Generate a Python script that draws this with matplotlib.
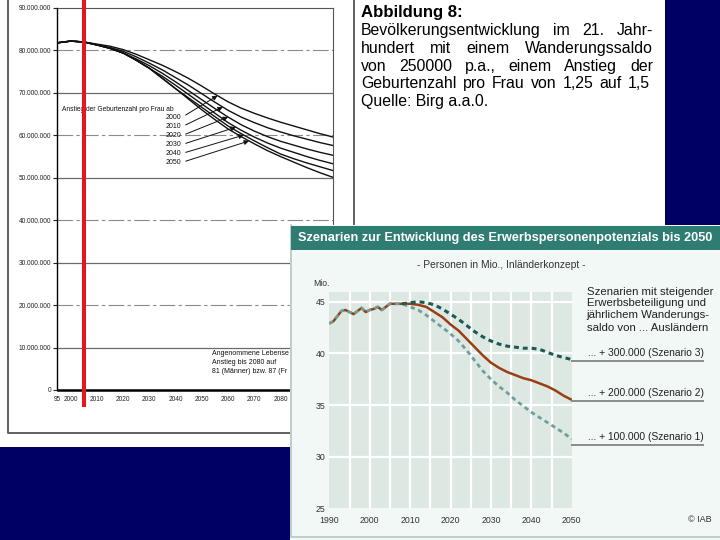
import numpy as np
import matplotlib
matplotlib.use('Agg')
import matplotlib.pyplot as plt
from matplotlib.patches import Rectangle
from matplotlib.lines import Line2D
from matplotlib.transforms import Bbox, TransformedBbox

W, H = 720, 540
FONT = 'Liberation Sans'
plt.rcParams['font.family'] = [FONT, 'DejaVu Sans']

# ---------------- left chart data (Birg, population in millions) ----------------
years_birg = [1995, 2000, 2005, 2010, 2015, 2020, 2025, 2030, 2035, 2040, 2045,
              2050, 2055, 2060, 2065, 2070, 2075, 2080, 2085, 2090, 2095, 2100]
pop_2000 = [81.8, 82.2, 82.0, 81.5, 81.0, 80.2, 79.1, 77.8, 76.5, 75.0, 73.4,
            71.6, 69.7, 67.9, 66.4, 65.2, 64.1, 63.1, 62.2, 61.3, 60.4, 59.6]
pop_2010 = [81.8, 82.2, 82.0, 81.3, 80.7, 79.8, 78.5, 77.0, 75.4, 73.6, 71.8,
            69.8, 67.8, 65.9, 64.3, 63.0, 61.8, 60.8, 59.9, 59.1, 58.3, 57.6]
pop_2020 = [81.8, 82.2, 82.0, 81.3, 80.5, 79.4, 78.0, 76.4, 74.6, 72.6, 70.5,
            68.4, 66.3, 64.3, 62.5, 61.0, 59.7, 58.6, 57.7, 56.8, 56.0, 55.3]
pop_2030 = [81.8, 82.2, 82.0, 81.3, 80.5, 79.4, 77.7, 75.8, 73.9, 71.8, 69.6,
            67.4, 65.2, 63.0, 61.2, 59.6, 58.2, 57.0, 56.0, 55.0, 54.1, 53.3]
pop_2040 = [81.8, 82.2, 82.0, 81.3, 80.5, 79.4, 77.7, 75.8, 73.4, 71.0, 68.8,
            66.6, 64.4, 62.2, 60.4, 58.7, 57.1, 55.6, 54.5, 53.5, 52.6, 51.7]
pop_2050 = [81.8, 82.2, 82.0, 81.3, 80.5, 79.4, 77.7, 75.8, 73.4, 71.0, 68.5,
            66.0, 63.7, 61.5, 59.7, 58.0, 56.4, 55.0, 53.7, 52.4, 51.2, 50.1]
fert_labels = ['2000', '2010', '2020', '2030', '2040', '2050']
arrow_years = [2056, 2058, 2060, 2063, 2066, 2068]
current_year = 2005
birg_yticks = [0, 10, 20, 30, 40, 50, 60, 70, 80, 90]
birg_xticks = [1995, 2000, 2010, 2020, 2030, 2040, 2050, 2060, 2070, 2080, 2090, 2100]
birg_xlabels = ['95', '2000', '2010', '2020', '2030', '2040', '2050', '2060',
                '2070', '2080', '2090', '2100']
note_lines = ['Angenommene Lebense', 'Anstieg bis 2080 auf', '81 (Männer) bzw. 87 (Fr']

# ---------------- inset data (IAB, Mio.) ----------------
hist_years = list(range(1990, 2009))
hist_vals = [42.9, 43.1, 43.6, 44.1, 44.2, 44.0, 43.8, 44.1, 44.4, 44.0,
             44.2, 44.3, 44.5, 44.2, 44.5, 44.8, 44.8, 44.8, 44.8]
proj_years = list(range(2008, 2051, 2))
szen3 = [44.8, 44.9, 45.0, 44.9, 44.7, 44.3, 43.8, 43.3, 42.7, 42.1, 41.6,
         41.2, 40.9, 40.7, 40.6, 40.5, 40.5, 40.4, 40.1, 39.8, 39.6, 39.4]
szen2 = [44.8, 44.8, 44.7, 44.5, 44.0, 43.5, 42.8, 42.2, 41.4, 40.6, 39.8,
         39.1, 38.6, 38.2, 37.9, 37.6, 37.4, 37.1, 36.8, 36.4, 35.9, 35.5]
szen1 = [44.8, 44.5, 44.2, 43.7, 43.1, 42.5, 41.9, 41.2, 40.3, 39.3, 38.3,
         37.5, 36.8, 36.2, 35.5, 34.9, 34.3, 33.8, 33.3, 32.8, 32.3, 31.7]
iab_xticks = [1990, 2000, 2010, 2020, 2030, 2040, 2050]
iab_yticks = [25, 30, 35, 40, 45]
szen_labels = ['... + 300.000 (Szenario 3)', '... + 200.000 (Szenario 2)',
               '... + 100.000 (Szenario 1)']

# ---------------- helpers ----------------
fig = plt.figure(figsize=(W / 100, H / 100), dpi=100)
fig.patch.set_facecolor('#000062')
renderer = fig.canvas.get_renderer()


def fx(px):
    return px / W


def fy(py):
    return 1 - py / H


def frect(x0, y0, x1, y1, **kw):
    r = Rectangle((fx(x0), fy(y1)), (x1 - x0) / W, (y1 - y0) / H,
                  transform=fig.transFigure, **kw)
    fig.patches.append(r)
    return r


def fline(xs, ys, **kw):
    l = Line2D([fx(x) for x in xs], [fy(y) for y in ys], transform=fig.transFigure, **kw)
    fig.lines.append(l)
    return l


def twidth(t):
    return t.get_window_extent(renderer=renderer).width


def fit_text(x, y, s, width, **kw):
    t = fig.text(fx(x), fy(y), s, fontsize=10, **kw)
    t.set_fontsize(10 * width / twidth(t))
    return t


def justify(words, x0, x1, ybase, **kw):
    ts = [fig.text(0, fy(ybase), w, va='baseline', **kw) for w in words]
    ws = [twidth(t) for t in ts]
    gap = (x1 - x0 - sum(ws)) / (len(ws) - 1)
    x = x0
    for t, w in zip(ts, ws):
        t.set_x(fx(x))
        x += w + gap


# ---------------- white slide panel ----------------
frect(0, 0, 665, 447, facecolor='white', edgecolor='none', zorder=-5)

# scanned figure frame
fline([8, 8, 354, 354], [-5, 433, 433, -5], color='#555555', lw=1.3, zorder=0.5)

# ---------------- left chart ----------------
ax1 = fig.add_axes([fx(57.5), fy(390), (333 - 57.5) / W, (390 - 8) / H])
ax1.set_facecolor('none')
ax1.set_xlim(1995, 2100)
ax1.set_ylim(0, 90)
for v in birg_yticks[1:-1]:
    if v % 20 == 0:
        ax1.axhline(v, color='#8a8a8a', lw=0.8, ls=(0, (14, 3, 3, 3)), zorder=1)
    else:
        ax1.axhline(v, color='#6a6a6a', lw=0.9, zorder=1)
for series in [pop_2000, pop_2010, pop_2020, pop_2030, pop_2040, pop_2050]:
    ax1.plot(years_birg, series, color='#111111', lw=1.0, zorder=3)
ax1.set_yticks(birg_yticks)
ax1.set_yticklabels([f"{int(v * 1e6):,}".replace(',', '.') if v else '0' for v in birg_yticks])
ax1.set_xticks(birg_xticks)
ax1.set_xticklabels(birg_xlabels)
ax1.tick_params(axis='y', length=3, width=0.8, pad=1.5, labelsize=4.7, colors='#222222')
ax1.tick_params(axis='x', length=0, pad=4.5, labelsize=4.7, colors='#222222')
ax1.spines['left'].set_linewidth(1.0)
ax1.spines['bottom'].set_linewidth(1.8)
ax1.spines['top'].set_color('#555555')
ax1.spines['right'].set_color('#555555')

ax1.text(1996.9, 66.0, 'Anstieg der Geburtenzahl pro Frau ab', fontsize=4.8,
         ha='left', va='center', color='#111111', zorder=4)
label_vals = [64.2, 62.0, 59.9, 57.8, 55.7, 53.6]
series_all = [pop_2000, pop_2010, pop_2020, pop_2030, pop_2040, pop_2050]
for lab, ay, lv, ser in zip(fert_labels, arrow_years, label_vals, series_all):
    ax1.annotate(lab, xy=(ay, np.interp(ay, years_birg, ser)), xytext=(2042.3, lv),
                 fontsize=5, ha='right', va='center', color='#111111', zorder=4,
                 arrowprops=dict(arrowstyle='-|>', lw=0.7, color='#111111',
                                 mutation_scale=7, relpos=(1, 0.5),
                                 shrinkA=1, shrinkB=0))
clipbox = TransformedBbox(Bbox([[0, 0], [fx(290), 1]]), fig.transFigure)
for i, s in enumerate(note_lines):
    t = ax1.text(2054, 8.5 - 2.1 * i, s, fontsize=5, ha='left', va='center', color='#111111')
    t.set_clip_box(clipbox)
    t.set_clip_on(True)

ax1.axvline(current_year, ymin=-(405 - 390) / 382, ymax=1.05, color='#e8161c',
            lw=2.9, clip_on=False, zorder=5)

# ---------------- right-hand text ----------------
fit_text(361, 17, 'Abbildung 8:', 103, fontweight='bold', va='baseline', color='black')
fs = 11.4
justify('Bevölkerungsentwicklung im 21. Jahr-'.split(), 361, 653, 35, fontsize=fs, color='black')
justify('hundert mit einem Wanderungssaldo'.split(), 361, 653, 52.8, fontsize=fs, color='black')
justify('von 250000 p.a., einem Anstieg der'.split(), 361, 653, 70.6, fontsize=fs, color='black')
justify('Geburtenzahl pro Frau von 1,25 auf 1,5'.split(), 361, 650, 88.4, fontsize=fs, color='black')
fig.text(fx(361), fy(106.2), 'Quelle: Birg a.a.0.', fontsize=fs, va='baseline', color='black')

# ---------------- inset panel ----------------
frect(290, 225, 722, 542, facecolor='#f2f8f6', edgecolor='none', zorder=5)
fline([290.5, 290.5, 722], [225, 537, 537], color='#b4c7c3', lw=1.2, zorder=5.1)
frect(291, 226, 722, 249.5, facecolor='#2f7d72', edgecolor='none', zorder=5.2)
fit_text(297.7, 237.5, 'Szenarien zur Entwicklung des Erwerbspersonenpotenzials bis 2050',
         417, fontweight='bold', color='white', va='center', zorder=7)
fit_text(417.3, 265, '- Personen in Mio., Inländerkonzept -', 169, color='#333333',
         va='center', zorder=7)
fig.text(fx(313), fy(283.3), 'Mio.', fontsize=6.2, color='#333333', va='center', zorder=7)
t0 = fit_text(586.7, 291.7, 'Szenarien mit steigender', 126.7, color='#222222',
              va='center', zorder=7)
fsr = t0.get_fontsize()
for i, s in enumerate(['Erwerbsbeteiligung und', 'jährlichem Wanderungs-',
                       'saldo von ... Ausländern']):
    fig.text(fx(586.7), fy(303.3 + 12.2 * i), s, fontsize=fsr, color='#222222',
             va='center', zorder=7)
fig.text(fx(712), fy(520), '© IAB', fontsize=6.5, color='#333333', ha='right',
         va='center', zorder=7)

ax2 = fig.add_axes([fx(329.3), fy(508.3), (571.7 - 329.3) / W, (508.3 - 291.7) / H],
                   zorder=6)
ax2.set_facecolor('#dde8e3')
ax2.set_xlim(1990, 2050)
ax2.set_ylim(25, 45.97)
for xv in range(1995, 2050, 5):
    ax2.axvline(xv, color='white', lw=1.6, zorder=1)
for yv in iab_yticks[1:]:
    ax2.axhline(yv, color='white', lw=1.6, zorder=1)
for s in ax2.spines.values():
    s.set_visible(False)
ax2.set_xticks(iab_xticks)
ax2.set_yticks(iab_yticks)
ax2.tick_params(length=0, labelsize=6.3, colors='#333333')
ax2.tick_params(axis='y', pad=3)
ax2.tick_params(axis='x', pad=5.5)

ax2.plot(hist_years + proj_years[1:], hist_vals + szen2[1:], color='#9a3f14', lw=1.8,
         zorder=3, solid_capstyle='butt')
ax2.plot(hist_years + proj_years[1:], hist_vals + szen1[1:], color='#6f9f9c', lw=2.0,
         ls=(0, (1.6, 1.3)), zorder=4)
ax2.plot(proj_years, szen3, color='#1d5a52', lw=2.2, ls=(0, (1.6, 1.3)), zorder=4)

ul_vals = [39.26, 35.42, 31.13]
txt_vals = [40.0, 36.2, 31.9]
probe = fig.text(0, 0, szen_labels[0], fontsize=10)
fs_lab = 10 * 115.7 / twidth(probe)
probe.remove()
for lab, uv, tv in zip(szen_labels, ul_vals, txt_vals):
    ax2.plot([2050, 2082.5], [uv, uv], color='#8c8c8c', lw=1.4, clip_on=False, zorder=4)
    ax2.text(2054, tv, lab, fontsize=fs_lab, color='#222222', ha='left', va='center',
             clip_on=False)

fig.savefig('out.png', dpi=100, facecolor=fig.get_facecolor())
